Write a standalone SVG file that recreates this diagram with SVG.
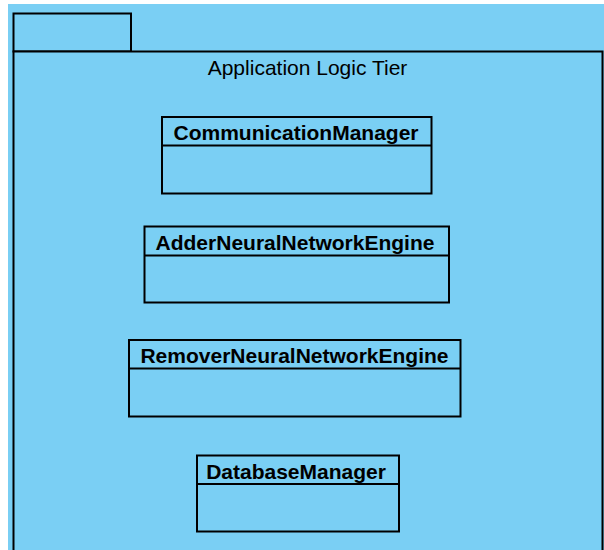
<svg xmlns="http://www.w3.org/2000/svg" width="604" height="550" viewBox="0 0 604 550">
  <style>
    .bg { fill: #7acff4; }
    .pkg { fill: #7acff4; stroke: #000; stroke-width: 2; }
    .cls { fill: #7acff4; stroke: #000; stroke-width: 2; }
    .div { stroke: #000; stroke-width: 2; fill: none; }
    .title { font-family: "Liberation Sans", Arial, sans-serif; font-size: 21px; fill: #000; text-anchor: middle; }
    .name { font-family: "Liberation Sans", Arial, sans-serif; font-size: 21px; font-weight: bold; fill: #000; text-anchor: middle; }
  </style>
  <rect x="0" y="0" width="604" height="550" fill="#ffffff"/>
  <rect class="bg" x="8" y="4" width="596" height="546"/>

  <!-- package frame -->
  <g id="package">
    <rect class="pkg" x="13.5" y="13.5" width="117.5" height="38"/>
    <path class="pkg" d="M13.5 51.5 H602.5 V560 H13.5 Z"/>
    <text class="title" x="307.5" y="75">Application Logic Tier</text>
  </g>

  <g id="connectors"></g>

  <g id="CommunicationManager">
    <rect class="cls" x="162" y="117" width="269.5" height="76.5"/>
    <line class="div" x1="162" y1="145.5" x2="431.5" y2="145.5"/>
    <text class="name" x="296" y="140">CommunicationManager</text>
  </g>

  <g id="AdderNeuralNetworkEngine">
    <rect class="cls" x="144.5" y="226.5" width="304.5" height="76"/>
    <line class="div" x1="144.5" y1="255.5" x2="449" y2="255.5"/>
    <text class="name" x="295" y="249.5">AdderNeuralNetworkEngine</text>
  </g>

  <g id="RemoverNeuralNetworkEngine">
    <rect class="cls" x="129" y="340" width="331.5" height="76.5"/>
    <line class="div" x1="129" y1="368.5" x2="460.5" y2="368.5"/>
    <text class="name" x="294.5" y="363">RemoverNeuralNetworkEngine</text>
  </g>

  <g id="DatabaseManager">
    <rect class="cls" x="197" y="455.5" width="202" height="76"/>
    <line class="div" x1="197" y1="484" x2="399" y2="484"/>
    <text class="name" x="296" y="478.5">DatabaseManager</text>
  </g>
</svg>
